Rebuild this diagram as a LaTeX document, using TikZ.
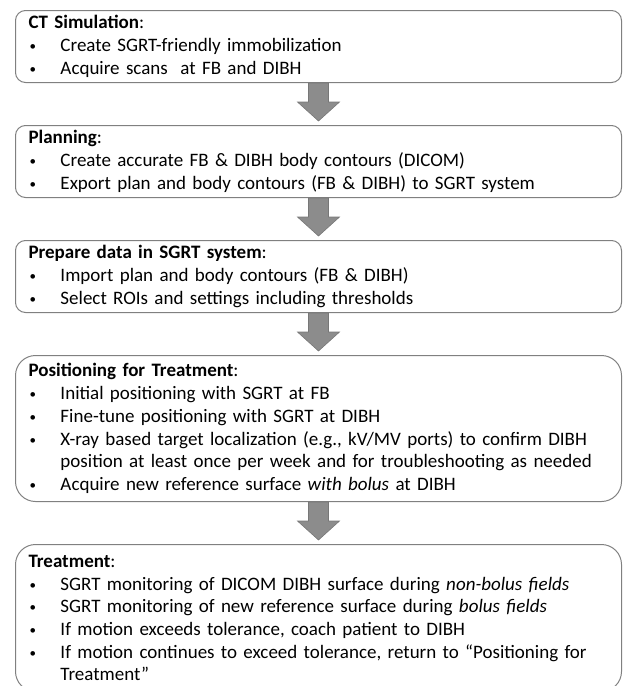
\documentclass[tikz,border=0pt]{standalone}
\usepackage{fontspec}
\setmainfont{Carlito}
\usetikzlibrary{positioning,calc}
\definecolor{boxgray}{RGB}{128,128,128}
\definecolor{arrowgray}{RGB}{140,140,140}
\newcommand{\bul}{\makebox[32pt][l]{\hspace{1pt}\raisebox{1pt}{\fontsize{13}{13}\selectfont•}}}
\tikzset{
  stepbox/.style={draw=boxgray,line width=1pt,rounded corners=10pt,minimum height=72pt,
    text width=580pt,inner xsep=13pt,align=left,font=\fontsize{19}{22.7}\selectfont},
  tallbox/.style={stepbox,rounded corners=20pt},
  downarrow/.style={fill=arrowgray,draw=arrowgray!85!black,line width=0.6pt}
}

\begin{document}
\begin{tikzpicture}[x=1pt,y=1pt]
  \useasboundingbox (0,0) rectangle (622,-686);
  \node[stepbox,anchor=north west](ct)at(15,-10){\textbf{CT Simulation}:\\
    \bul Create SGRT-friendly immobilization\\
    \bul Acquire scans~ at FB and DIBH};
  \node[stepbox,below=42pt of ct](plan){\textbf{Planning}:\\
    \bul Create accurate FB \& DIBH body contours (DICOM)\\
    \bul Export plan and body contours (FB \& DIBH) to SGRT system};
  \node[stepbox,below=42pt of plan](prep){\textbf{Prepare data in SGRT system}:\\
    \bul Import plan and body contours (FB \& DIBH)\\
    \bul Select ROIs and settings including thresholds};
  \node[tallbox,minimum height=146pt,below=42pt of prep](pos){\textbf{Positioning for Treatment}:\\
    \bul Initial positioning with SGRT at FB\\
    \bul Fine-tune positioning with SGRT at DIBH\\
    \bul X-ray based target localization (e.g., kV/MV ports) to confirm DIBH\\
    \hspace*{32pt}position at least once per week and for troubleshooting as needed\\
    \bul Acquire new reference surface \textit{with bolus} at DIBH};
  \node[tallbox,minimum height=147pt,below=42pt of pos](treat){\textbf{Treatment}:\\
    \bul SGRT monitoring of DICOM DIBH surface during \textit{non-bolus fields}\\
    \bul SGRT monitoring of new reference surface during \textit{bolus fields}\\
    \bul If motion exceeds tolerance, coach patient to DIBH\\
    \bul If motion continues to exceed tolerance, return to “Positioning for\\
    \hspace*{32pt}Treatment”};
  % block arrows between the steps
  \foreach \a/\b in {ct/plan,plan/prep,prep/pos,pos/treat}
    \draw[downarrow] ($(\a.south)+(-10,0)$) |- ($(\a.south)+(-21,-19)$) -- ($(\b.north)+(0,4)$)
      -- ($(\a.south)+(21,-19)$) -| ($(\a.south)+(10,0)$) -- cycle;
\end{tikzpicture}
\end{document}
